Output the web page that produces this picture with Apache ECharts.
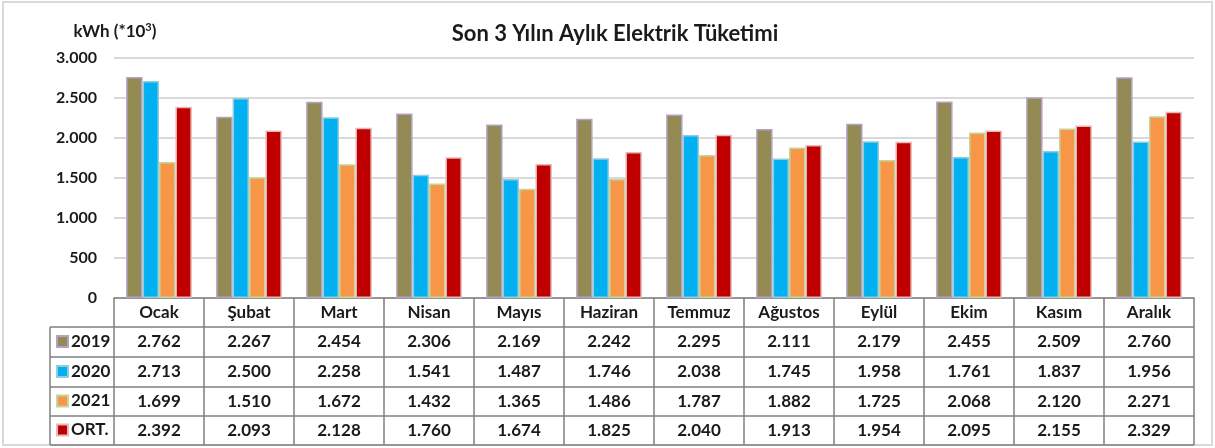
<!DOCTYPE html>
<html>
<head>
<meta charset="utf-8">
<script src="https://cdn.jsdelivr.net/npm/echarts@6/dist/echarts.min.js"></script>
<style>
  html, body { margin: 0; padding: 0; background: #fff; }
  #main { width: 1215px; height: 448px; }
</style>
</head>
<body>
<div id="main"></div>
<script>
// data
var months = ['Ocak', 'Şubat', 'Mart', 'Nisan', 'Mayıs', 'Haziran', 'Temmuz', 'Ağustos', 'Eylül', 'Ekim', 'Kasım', 'Aralık'];
var seriesNames = ['2019', '2020', '2021', 'ORT.'];
var y2019 = [2762, 2267, 2454, 2306, 2169, 2242, 2295, 2111, 2179, 2455, 2509, 2760];
var y2020 = [2713, 2500, 2258, 1541, 1487, 1746, 2038, 1745, 1958, 1761, 1837, 1956];
var y2021 = [1699, 1510, 1672, 1432, 1365, 1486, 1787, 1882, 1725, 2068, 2120, 2271];
var yOrt = [2392, 2093, 2128, 1760, 1674, 1825, 2040, 1913, 1954, 2095, 2155, 2329];
var yMin = 0, yMax = 3000, yStep = 500;

var FONT = 'Lato, "Open Sans", sans-serif';
var TXT = '#1a1a1a';
var LINE = '#7f7f7f';

// layout of plot + table
var gL = 114, gR = 1194, gTop = 58, gBot = 298;
var rowLines = [298, 327, 357, 387, 416, 445];
var colLeft = 50;

function fmt(n) {
    return String(n).replace(/\B(?=(\d{3})+(?!\d))/g, '.');
}

var allData = [y2019, y2020, y2021, yOrt];
var fills = ['#948A54', '#00B0F0', '#F79646', '#C00000'];
var borders = ['#B3A2C7', '#93CDDD', '#C3D69B', '#E6B9B8'];

// one hidden-line x axis per table row, label only
var tableAxes = allData.map(function (arr, i) {
    var center = (rowLines[i + 1] + rowLines[i + 2]) / 2;
    return {
        type: 'category',
        gridIndex: 0,
        position: 'bottom',
        data: arr.map(fmt),
        axisLine: { show: false },
        axisTick: { show: false },
        axisLabel: {
            interval: 0, margin: center - gBot, verticalAlign: 'middle',
            fontFamily: FONT, fontWeight: 'bold', fontSize: 17, color: TXT
        }
    };
});

var legends = seriesNames.map(function (name, i) {
    var center = (rowLines[i + 1] + rowLines[i + 2]) / 2;
    return {
        data: [name],
        left: 56, top: center - 9,
        padding: 0,
        itemWidth: 11, itemHeight: 11,
        icon: 'rect',
        itemGap: 5,
        selectedMode: false,
        textStyle: { fontFamily: FONT, fontWeight: 'bold', fontSize: 17, color: TXT, padding: [0, 0, 0, -2] }
    };
});

// table frame lines
var frame = [];
rowLines.slice(1).forEach(function (y) {
    frame.push({ type: 'line', shape: { x1: colLeft, y1: y, x2: gR, y2: y }, style: { stroke: LINE, lineWidth: 1.5 } });
});
frame.push({ type: 'line', shape: { x1: colLeft, y1: rowLines[1], x2: colLeft, y2: rowLines[5] }, style: { stroke: LINE, lineWidth: 1.5 } });
frame.push({ type: 'rect', shape: { x: 3, y: 2, width: 1209, height: 443 }, style: { fill: 'none', stroke: '#d9d9d9', lineWidth: 2 }, z: -1 });

var option = {
    animation: false,
    title: {
        text: 'Son 3 Yılın Aylık Elektrik Tüketimi',
        left: 610, top: 18, textAlign: 'center',
        textStyle: { fontFamily: FONT, fontWeight: 'bold', fontSize: 22, color: TXT }
    },
    legend: legends,
    grid: { left: gL, right: 1215 - gR, top: gTop, bottom: 448 - gBot, containLabel: false },
    xAxis: [{
        type: 'category',
        data: months,
        position: 'bottom',
        axisLine: { show: true, lineStyle: { color: LINE, width: 1.5 } },
        axisTick: { show: true, length: rowLines[5] - gBot, lineStyle: { color: LINE, width: 1.5 } },
        axisLabel: {
            interval: 0, margin: (rowLines[0] + rowLines[1]) / 2 - gBot, verticalAlign: 'middle',
            fontFamily: FONT, fontWeight: 'bold', fontSize: 17, color: TXT
        }
    }].concat(tableAxes),
    yAxis: {
        type: 'value',
        min: yMin, max: yMax, interval: yStep,
        name: '{a|kWh (*10}{b|3}{a|)}',
        nameLocation: 'end',
        nameGap: 16,
        nameTextStyle: {
            align: 'center', padding: [0, 0, 0, 2],
            rich: {
                a: { fontFamily: FONT, fontWeight: 'bold', fontSize: 17, color: TXT },
                b: { fontFamily: FONT, fontWeight: 'bold', fontSize: 11, color: TXT, verticalAlign: 'top', padding: [0, 0, 9, 0] }
            }
        },
        axisLine: { show: false },
        axisTick: { show: false },
        splitLine: { lineStyle: { color: '#d9d9d9', width: 2 } },
        axisLabel: {
            margin: 17,
            fontFamily: FONT, fontWeight: 'bold', fontSize: 16, color: TXT,
            formatter: function (v) { return fmt(v); }
        }
    },
    series: allData.map(function (arr, i) {
        return {
            name: seriesNames[i],
            type: 'bar',
            xAxisIndex: 0,
            data: arr,
            barGap: '0%',
            barCategoryGap: '27%',
            itemStyle: { color: fills[i], borderColor: borders[i], borderWidth: 1.5 }
        };
    }),
    graphic: frame
};

var chart = echarts.init(document.getElementById('main'));
chart.setOption(option);
</script>
</body>
</html>
